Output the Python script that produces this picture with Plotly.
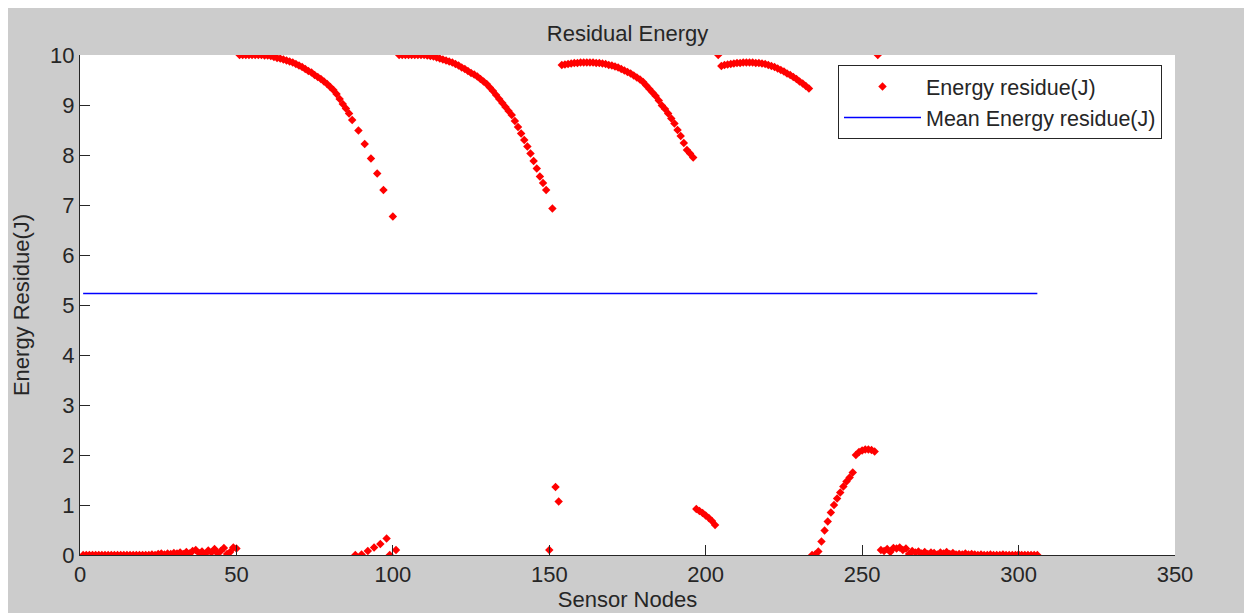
import plotly.graph_objects as go
import numpy as np

# ---- data ----
node_ids = list(range(1, 307))

seg_low_start = [0.0] * 22 + [
    0.01, 0.0, 0.02, 0.03, 0.01, 0.03, 0.02, 0.04,
    0.03, 0.05, 0.02, 0.06, 0.03, 0.08, 0.10, 0.04, 0.07, 0.02,
    0.09, 0.05, 0.12, 0.03, 0.08, 0.14, 0.02, 0.06, 0.15, 0.13,
]  # nodes 1-50

seg_high_1 = [
    10.0, 10.0, 10.0, 10.0, 10.0, 10.0, 10.0, 10.0, 9.99, 9.99,
    9.98, 9.96, 9.94, 9.93, 9.91, 9.89, 9.87, 9.85, 9.82, 9.79,
    9.76, 9.72, 9.68, 9.65, 9.60, 9.56, 9.52, 9.47, 9.42, 9.36,
    9.30, 9.22, 9.12, 9.02, 8.93, 8.83, 8.70,
]  # nodes 51-87

seg_mixed_1 = [
    0.0, 8.49, 0.01, 8.22, 0.08, 7.93, 0.15, 7.63, 0.22, 7.30,
    0.33, 0.0, 6.77, 0.10,
]  # nodes 88-101

seg_high_2 = [
    10.0, 10.0, 10.0, 10.0, 10.0, 10.0, 10.0, 10.0, 10.0, 9.99,
    9.98, 9.97, 9.95, 9.93, 9.91, 9.89, 9.87, 9.85, 9.82, 9.79,
    9.75, 9.72, 9.68, 9.64, 9.61, 9.57, 9.52, 9.47, 9.42, 9.35,
    9.28, 9.20, 9.12, 9.04, 8.96, 8.88, 8.80, 8.68, 8.56, 8.43,
    8.30, 8.17, 8.03, 7.88, 7.73, 7.57, 7.44, 7.30,
]  # nodes 102-149

seg_mixed_2 = [0.10, 6.93, 1.36, 1.07]  # nodes 150-153

seg_high_3 = [
    9.80, 9.81, 9.82, 9.83, 9.84, 9.84, 9.85, 9.85, 9.85, 9.85,
    9.85, 9.84, 9.84, 9.83, 9.82, 9.80, 9.79, 9.77, 9.75, 9.72,
    9.69, 9.66, 9.63, 9.59, 9.55, 9.51, 9.46, 9.39, 9.32, 9.25,
    9.18, 9.09, 8.99, 8.92, 8.83, 8.73, 8.63, 8.50, 8.38, 8.24,
    8.10, 8.03, 7.95,
]  # nodes 154-196

seg_low_mid = [0.92, 0.88, 0.84, 0.79, 0.74, 0.68, 0.60, 10.0]  # nodes 197-204

seg_high_4 = [
    9.78, 9.80, 9.81, 9.82, 9.83, 9.84, 9.84, 9.85, 9.85, 9.85,
    9.85, 9.84, 9.84, 9.83, 9.82, 9.80, 9.78, 9.76, 9.73, 9.70,
    9.67, 9.63, 9.60, 9.56, 9.52, 9.47, 9.43, 9.38, 9.33,
]  # nodes 205-233

seg_rise = [
    0.0, 0.01, 0.07, 0.27, 0.49, 0.67, 0.85, 1.00, 1.13, 1.25,
    1.37, 1.47, 1.55, 1.65, 2.00, 2.06, 2.09, 2.11, 2.11, 2.10,
    2.07, 10.0,
]  # nodes 234-255

seg_low_end = [
    0.10, 0.08, 0.12, 0.06, 0.14, 0.13, 0.15, 0.10, 0.13, 0.02,
    0.08, 0.05, 0.07, 0.03, 0.06, 0.02, 0.05, 0.04, 0.01, 0.05,
    0.03, 0.06, 0.02, 0.04, 0.01, 0.02, 0.01, 0.03, 0.01, 0.02,
] + [0.01, 0.0, 0.01, 0.0, 0.0, 0.01, 0.0, 0.0, 0.0, 0.01,
     0.0, 0.0, 0.0, 0.0, 0.01, 0.0, 0.0, 0.0, 0.0, 0.0, 0.0]  # nodes 256-306

energy_residue = (seg_low_start + seg_high_1 + seg_mixed_1 + seg_high_2 +
                  seg_mixed_2 + seg_high_3 + seg_low_mid + seg_high_4 +
                  seg_rise + seg_low_end)
mean_energy = float(np.mean(energy_residue))

x_ticks = [0, 50, 100, 150, 200, 250, 300, 350]
y_ticks = list(range(0, 11))

# ---- figure ----
FONT = "Arial, Liberation Sans, Helvetica, sans-serif"
TXT = "#262626"

fig = go.Figure()
fig.add_trace(go.Scatter(
    x=node_ids, y=energy_residue, mode="markers",
    name="Energy residue(J)",
    marker=dict(symbol="diamond", size=6.5, color="#ff0000", line=dict(width=0)),
))
fig.add_trace(go.Scatter(
    x=[node_ids[0], node_ids[-1]], y=[mean_energy, mean_energy], mode="lines",
    name="Mean Energy residue(J)",
    line=dict(color="#0000ff", width=1.6),
))

# the page body adds an 8 px margin on the top and left
W, H = 1244, 605
L, R, T, B = 72, 77, 47, 58
pw, ph = W - L - R, H - T - B

fig.update_layout(
    width=W, height=H,
    margin=dict(l=L, r=R, t=T, b=B, autoexpand=False),
    paper_bgcolor="#cccccc", plot_bgcolor="#ffffff",
    font=dict(family=FONT, size=22, color=TXT),
    title=dict(text="Residual Energy", x=0.5, xref="paper", xanchor="center",
               y=1 - 25 / H, yref="container", yanchor="middle",
               font=dict(size=22, color=TXT)),
    showlegend=True,
    legend=dict(x=(838 - 80) / pw, y=1 - (65 - 55) / ph, xanchor="left", yanchor="top",
                bgcolor="#ffffff", bordercolor="#262626", borderwidth=1,
                font=dict(size=21.5, color=TXT), itemwidth=77, tracegroupgap=0),
)
fig.update_xaxes(
    range=[0, 350], tickvals=x_ticks, ticks="inside", ticklen=10, tickcolor=TXT,
    showline=True, linecolor=TXT, linewidth=1, showgrid=False, zeroline=False,
    automargin=False,
    title=dict(text="Sensor Nodes", standoff=4, font=dict(size=22)),
    tickfont=dict(size=22),
)
fig.update_yaxes(
    range=[0, 10], tickvals=y_ticks, ticks="inside", ticklen=10, tickcolor=TXT,
    showline=True, linecolor=TXT, linewidth=1, showgrid=False, zeroline=False,
    automargin=False,
    title=dict(text="Energy Residue(J)", standoff=14, font=dict(size=22)),
    tickfont=dict(size=22),
)

fig.write_html("out.html")
